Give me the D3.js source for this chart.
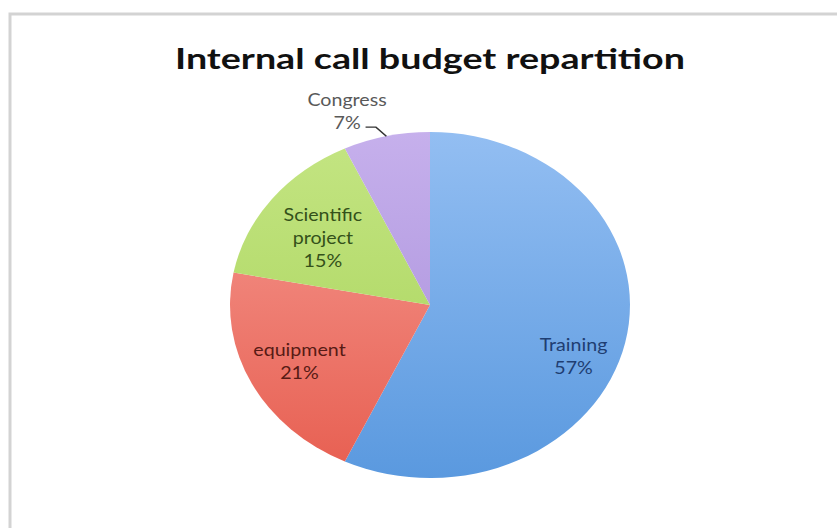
<!DOCTYPE html>
<html>
<head>
<meta charset="utf-8">
<script src="https://cdn.jsdelivr.net/npm/d3@7"></script>
<style>
  html, body { margin: 0; padding: 0; background: #ffffff; }
  svg { display: block; }
</style>
</head>
<body>
<svg id="chart" width="837" height="528"></svg>
<script>
// ---- data ----
const title = "Internal call budget repartition";
const categories = ["Training", "equipment", "Scientific project", "Congress"];
const values = [57, 21, 15, 7];
const percentLabels = ["57%", "21%", "15%", "7%"];

// ---- styles ----
const fillTop = ["#93bef2", "#f69d95", "#c4e583", "#c6b0ec"];
const fillBottom = ["#5a99df", "#e75e50", "#a6d257", "#a58bd8"];
const textColors = ["#1f3e72", "#571b15", "#34511a", "#595959"];
const labelNudge = [[6, 25], [-5, 2], [3, 7], [0, 0]];

const W = 837, H = 528;
const svg = d3.select("#chart");

// frame
svg.append("rect")
  .attr("x", 10).attr("y", 14)
  .attr("width", W + 20).attr("height", H + 20)
  .attr("fill", "#ffffff")
  .attr("stroke", "#d3d3d3").attr("stroke-width", 3);

// title
svg.append("text")
  .attr("x", 430).attr("y", 69)
  .attr("text-anchor", "middle")
  .attr("font-family", "Lato, 'Open Sans', sans-serif")
  .attr("font-weight", "bold")
  .attr("font-size", 28)
  .attr("fill", "#111111")
  .attr("textLength", 510)
  .attr("lengthAdjust", "spacingAndGlyphs")
  .text(title);

// pie geometry (image is stretched horizontally)
const cx = 430, cy = 305, R = 173, sx = 1.156;
const g = svg.append("g").attr("transform", `translate(${cx},${cy}) scale(${sx},1)`);

const defs = svg.append("defs");
categories.forEach((c, i) => {
  const lg = defs.append("linearGradient")
    .attr("id", "grad" + i)
    .attr("gradientUnits", "userSpaceOnUse")
    .attr("x1", 0).attr("y1", -R).attr("x2", 0).attr("y2", R);
  lg.append("stop").attr("offset", "0%").attr("stop-color", fillTop[i]);
  lg.append("stop").attr("offset", "100%").attr("stop-color", fillBottom[i]);
});

const pie = d3.pie().sort(null).value(d => d)(values);
const arc = d3.arc().innerRadius(0).outerRadius(R);
const labelArc = d3.arc().innerRadius(R * 0.7).outerRadius(R * 0.7);

g.selectAll("path.slice")
  .data(pie)
  .join("path")
  .attr("class", "slice")
  .attr("d", arc)
  .attr("fill", (d, i) => `url(#grad${i})`)
  .attr("stroke", "none");

const fs = 17, lh = 23;
const font = "Lato, 'Open Sans', sans-serif";

function drawLabel(lines, x, y, color) {
  const t = g.append("text")
    .attr("text-anchor", "middle")
    .attr("font-family", font)
    .attr("font-size", fs)
    .attr("fill", color);
  const y0 = y - (lines.length - 1) * lh / 2 + 0.35 * fs;
  lines.forEach((l, k) => {
    t.append("tspan").attr("x", x).attr("y", y0 + k * lh).text(l);
  });
}

pie.forEach((d, i) => {
  const lines = categories[i].split(" ").concat([percentLabels[i]]);
  if (i < 3) {
    const [x, y] = labelArc.centroid(d);
    drawLabel(lines, x + labelNudge[i][0], y + labelNudge[i][1], textColors[i]);
  } else {
    // outside label with leader line
    const mid = (d.startAngle + d.endAngle) / 2;
    const ex = R * Math.sin(mid), ey = -R * Math.cos(mid);
    const bx = ex - 9, by = ey - 9;
    const sx0 = bx - 9;
    g.append("path")
      .attr("d", `M${sx0},${by}L${bx},${by}L${ex},${ey}`)
      .attr("fill", "none")
      .attr("stroke", "#333333")
      .attr("stroke-width", 1.3);
    drawLabel([categories[i], percentLabels[i]], sx0 - 16, by - 16, textColors[i]);
  }
});
</script>
</body>
</html>
